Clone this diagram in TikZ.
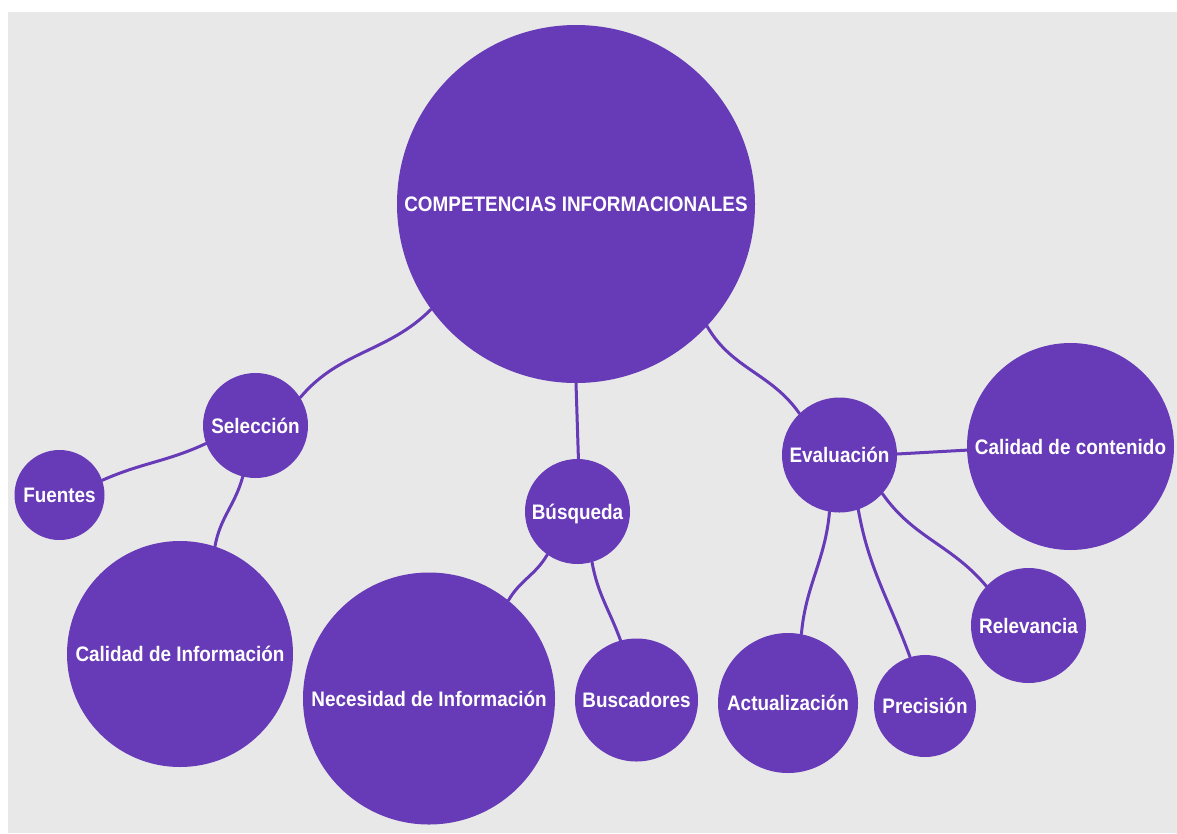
\documentclass[tikz,border=0pt]{standalone}
\usepackage{fontspec}
\newfontfamily\lblfont[FakeStretch=0.9]{Liberation Sans Bold}
\definecolor{purp}{HTML}{673AB7}
\definecolor{bggray}{HTML}{E8E8E8}
\pgfdeclarelayer{back}
\pgfdeclarelayer{bg}
\pgfsetlayers{back,bg,main}
\tikzset{
  bubble/.style={circle, fill=purp, draw=none, inner sep=0pt, text=white,
    font=\lblfont\fontsize{21}{21}\selectfont, text height=15pt, text depth=0pt},
  conn/.style={draw=purp, line width=3pt, line cap=round}
}
\begin{document}
\begin{tikzpicture}
\useasboundingbox (0,0) rectangle (1177pt,-833pt);
\begin{pgfonlayer}{back}
\fill[white] (0,0) rectangle (1177pt,-833pt);
\fill[bggray] (8pt,-12pt) rectangle (1177pt,-833pt);
\end{pgfonlayer}
\begin{scope}[x=1pt,y=1pt]
\node[bubble, minimum size=358pt] (main) at (576,-204) {COMPETENCIAS INFORMACIONALES};
\node[bubble, minimum size=105pt] (sel) at (255.5,-425.5) {Selección};
\node[bubble, minimum size=90pt] (fue) at (59.5,-495) {Fuentes};
\node[bubble, minimum size=226pt] (cinf) at (180,-654) {Calidad de Información};
\node[bubble, minimum size=105pt] (bus) at (577.5,-511.5) {Búsqueda};
\node[bubble, minimum size=252pt] (nec) at (429,-698.5) {Necesidad de Información};
\node[bubble, minimum size=123pt] (busc) at (636.5,-700) {Buscadores};
\node[bubble, minimum size=115pt] (eva) at (839.5,-455) {Evaluación};
\node[bubble, minimum size=207pt] (cc) at (1070.5,-446.5) {Calidad de contenido};
\node[bubble, minimum size=115pt] (rel) at (1028.5,-625.5) {Relevancia};
\node[bubble, minimum size=140pt] (act) at (788,-703) {Actualización};
\node[bubble, minimum size=102pt] (pre) at (925,-706) {Precisión};
\begin{pgfonlayer}{bg}
\draw[conn] (main.216) to[out=225,in=50] (sel.32);
\draw[conn] (main.-90) -- (bus.89);
\draw[conn] (main.-43) to[out=-60,in=125] (eva.134);
\draw[conn] (sel.200) to[out=205,in=24] (fue.19);
\draw[conn] (sel.256) to[out=255,in=80] (cinf.72);
\draw[conn] (bus.235) to[out=240,in=60] (nec.51);
\draw[conn] (bus.286) to[out=-80,in=110] (busc.105);
\draw[conn] (eva.1) -- (cc.182);
\draw[conn] (eva.260) to[out=-95,in=85] (act.79);
\draw[conn] (eva.289) to[out=-80,in=110] (pre.107);
\draw[conn] (eva.-42) to[out=-55,in=130] (rel.137);
\end{pgfonlayer}
\end{scope}
\end{tikzpicture}
\end{document}
